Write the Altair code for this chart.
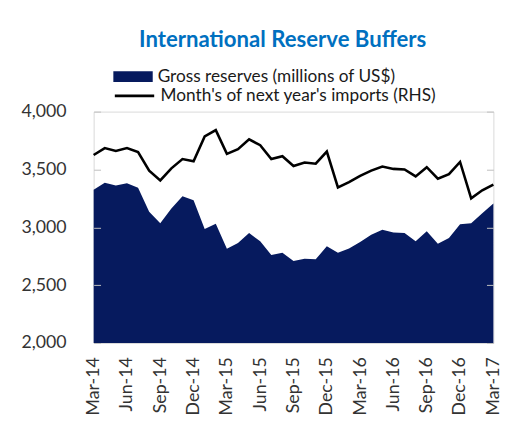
import altair as alt
import pandas as pd

months = ["Mar-14", "Apr-14", "May-14", "Jun-14", "Jul-14", "Aug-14", "Sep-14", "Oct-14", "Nov-14", "Dec-14",
          "Jan-15", "Feb-15", "Mar-15", "Apr-15", "May-15", "Jun-15", "Jul-15", "Aug-15", "Sep-15", "Oct-15",
          "Nov-15", "Dec-15", "Jan-16", "Feb-16", "Mar-16", "Apr-16", "May-16", "Jun-16", "Jul-16", "Aug-16",
          "Sep-16", "Oct-16", "Nov-16", "Dec-16", "Jan-17", "Feb-17", "Mar-17"]
reserves = [3325, 3385, 3362, 3381, 3342, 3135, 3035, 3163, 3268, 3234,
            2985, 3030, 2814, 2865, 2950, 2879, 2760, 2780, 2709, 2729,
            2723, 2837, 2780, 2817, 2874, 2936, 2979, 2956, 2950, 2879,
            2965, 2857, 2908, 3027, 3035, 3121, 3206]
import_cover = [5.25, 5.37, 5.32, 5.37, 5.30, 4.98, 4.81, 5.02, 5.18, 5.14,
                5.57, 5.68, 5.27, 5.35, 5.52, 5.42, 5.18, 5.23, 5.06, 5.12,
                5.10, 5.31, 4.69, 4.78, 4.89, 4.98, 5.05, 5.01, 5.00, 4.88,
                5.04, 4.84, 4.92, 5.13, 4.50, 4.64, 4.74]
left_ticks = [2000, 2500, 3000, 3500, 4000]
right_ticks = [2, 3, 4, 5, 6]
x_labels = months[::3]

s1 = "Gross reserves (millions of US$)"
s2 = "Month's of next year's imports (RHS)"

df = pd.DataFrame({"month": months, "reserves": reserves, "cover": import_cover})
df["s1"] = s1
df["s2"] = s2

FONT = "Lato"
NAVY = "#061a5e"
LABEL = "#333333"

x = alt.X("month:O", sort=None, title=None,
          scale=alt.Scale(type="point", padding=0),
          axis=alt.Axis(values=x_labels, labelAngle=-90, ticks=False, domain=False,
                        labelPadding=14, labelFontSize=18, labelColor=LABEL,
                        labelFont=FONT, grid=False))

area = alt.Chart(df).mark_area(fillOpacity=1).encode(
    x=x,
    y=alt.Y("reserves:Q", title=None,
            scale=alt.Scale(domain=[2000, 4000], zero=False, nice=False),
            axis=alt.Axis(values=left_ticks, format=",.0f", orient="left", offset=-7,
                          tickSize=7, tickColor="#bfbfbf", tickWidth=1, domain=False,
                          grid=False, labelPadding=28, labelFontSize=18,
                          labelColor=LABEL, labelFont=FONT, zindex=1)),
    y2=alt.Y2Datum(2000),
    fill=alt.Fill("s1:N", scale=alt.Scale(range=[NAVY]),
                  legend=alt.Legend(title=None, orient="none", legendX=20, legendY=-55.5,
                                    symbolType="M-1,-0.27H1V0.27H-1Z", symbolSize=1600,
                                    symbolStrokeWidth=0, labelFontSize=17.5, labelFont=FONT,
                                    labelColor="#1a1a1a", labelOffset=5, labelLimit=400,
                                    padding=0)),
)

line = alt.Chart(df).mark_line(strokeWidth=2.6).encode(
    x=x,
    y=alt.Y("cover:Q", title=None,
            scale=alt.Scale(domain=[2, 6], zero=False, nice=False),
            axis=alt.Axis(values=right_ticks, orient="right", offset=-7,
                          tickSize=7, tickColor="#bfbfbf", tickWidth=1, domain=False,
                          grid=False, labelPadding=25, labelFontSize=18,
                          labelColor=LABEL, labelFont=FONT, zindex=1)),
    stroke=alt.Stroke("s2:N", scale=alt.Scale(range=["#000000"]),
                      legend=alt.Legend(title=None, orient="none", legendX=20, legendY=-37.5,
                                        symbolType="stroke", symbolSize=1600,
                                        symbolStrokeWidth=2.6, labelFontSize=17.5, labelFont=FONT,
                                        labelColor="#1a1a1a", labelOffset=5, labelLimit=400,
                                        padding=0)),
)

chart = alt.layer(area, line).resolve_scale(y="independent").properties(
    width=406, height=235,
    title=alt.Title("International Reserve Buffers", fontSize=22.5, font=FONT,
                    fontWeight="bold", color="#0070C0", anchor="middle", dx=-11, dy=-2),
    autosize=alt.AutoSizeParams(type="none"),
    padding={"left": 87, "top": 102, "right": 24, "bottom": 78},
).configure_view(stroke="#d9d9d9", strokeWidth=1)

chart.save("out.html", embed_options={"renderer": "svg", "actions": False})
